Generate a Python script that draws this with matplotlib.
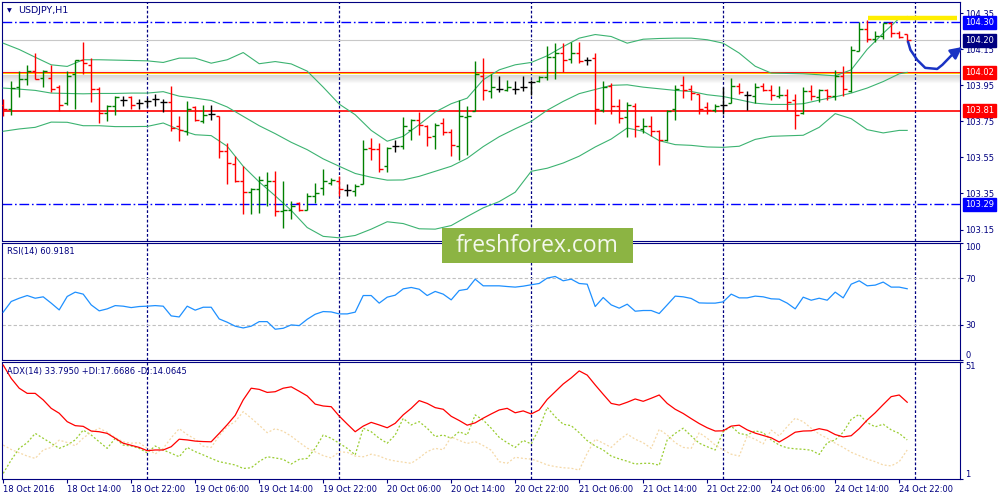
import matplotlib
matplotlib.use('Agg')
import matplotlib.pyplot as plt
import matplotlib.transforms as mtransforms
from matplotlib.patches import Rectangle

# USDJPY H1, 114 hourly bars: 18 Oct 06:00 .. 24 Oct 23:00 (weekend skipped)
bar_open = [103.840, 103.817, 103.940, 103.983, 104.027, 103.990, 103.990, 103.940, 103.852, 104.014,
            104.092, 104.064, 103.928, 103.798, 103.837, 103.867, 103.887, 103.852, 103.861, 103.872,
            103.856, 103.856, 103.723, 103.695, 103.830, 103.750, 103.793, 103.778, 103.584, 103.516,
            103.418, 103.357, 103.376, 103.395, 103.418, 103.252, 103.261, 103.298, 103.261, 103.335,
            103.381, 103.409, 103.418, 103.372, 103.363, 103.400, 103.603, 103.597, 103.501, 103.612,
            103.616, 103.704, 103.760, 103.723, 103.667, 103.741, 103.689, 103.612, 103.774, 103.805,
            104.003, 103.917, 103.928, 103.922, 103.928, 103.940, 103.966, 103.972, 103.996, 104.106,
            104.132, 104.095, 104.132, 104.088, 104.101, 103.811, 103.944, 103.837, 103.774, 103.837,
            103.710, 103.726, 103.695, 103.649, 103.817, 103.953, 103.928, 103.903, 103.830, 103.815,
            103.843, 103.852, 103.946, 103.898, 103.889, 103.946, 103.925, 103.889, 103.898, 103.870,
            103.796, 103.917, 103.885, 103.922, 103.889, 104.003, 103.917, 104.143, 104.262, 104.206,
            104.225, 104.298, 104.240, 104.236]
bar_high = [103.872, 103.972, 104.027, 104.064, 104.129, 104.036, 104.064, 103.953, 104.027, 104.092,
            104.193, 104.101, 103.940, 103.843, 103.892, 103.892, 103.892, 103.872, 103.880, 103.902,
            103.874, 103.944, 103.778, 103.861, 103.833, 103.843, 103.843, 103.781, 103.630, 103.560,
            103.501, 103.381, 103.446, 103.468, 103.473, 103.418, 103.307, 103.302, 103.354, 103.409,
            103.486, 103.437, 103.446, 103.402, 103.400, 103.649, 103.658, 103.630, 103.608, 103.645,
            103.774, 103.763, 103.802, 103.732, 103.741, 103.769, 103.708, 103.870, 103.833, 104.083,
            104.101, 104.014, 104.000, 103.977, 103.972, 104.003, 103.981, 104.003, 104.166, 104.184,
            104.184, 104.193, 104.193, 104.110, 104.132, 103.972, 103.963, 103.874, 103.856, 103.852,
            103.769, 103.781, 103.700, 103.815, 103.953, 104.003, 103.953, 103.903, 103.856, 103.848,
            103.940, 103.990, 103.965, 103.917, 103.963, 103.965, 103.953, 103.944, 103.928, 103.903,
            103.940, 103.953, 103.928, 103.928, 104.033, 104.055, 104.166, 104.304, 104.313, 104.249,
            104.298, 104.304, 104.249, 104.236]
bar_low = [103.778, 103.787, 103.887, 103.953, 103.983, 103.940, 103.911, 103.809, 103.843, 103.817,
           104.014, 103.856, 103.741, 103.750, 103.787, 103.837, 103.817, 103.817, 103.830, 103.837,
           103.800, 103.698, 103.640, 103.676, 103.750, 103.741, 103.760, 103.547, 103.400, 103.413,
           103.234, 103.234, 103.243, 103.280, 103.224, 103.160, 103.206, 103.252, 103.261, 103.298,
           103.344, 103.397, 103.335, 103.335, 103.335, 103.400, 103.534, 103.468, 103.468, 103.579,
           103.597, 103.649, 103.676, 103.616, 103.597, 103.676, 103.557, 103.534, 103.566, 103.805,
           103.867, 103.879, 103.911, 103.917, 103.902, 103.917, 103.898, 103.966, 103.977, 103.987,
           104.022, 104.073, 104.076, 104.064, 103.737, 103.800, 103.793, 103.741, 103.665, 103.665,
           103.686, 103.667, 103.507, 103.640, 103.760, 103.879, 103.870, 103.793, 103.793, 103.800,
           103.793, 103.852, 103.903, 103.815, 103.852, 103.917, 103.870, 103.879, 103.815, 103.708,
           103.793, 103.870, 103.856, 103.870, 103.867, 103.892, 103.911, 104.140, 104.191, 104.191,
           104.205, 104.219, 104.212, 104.191]
bar_close = [103.817, 103.935, 103.983, 104.027, 103.985, 104.027, 103.928, 103.843, 104.003, 104.092,
             104.076, 103.928, 103.798, 103.837, 103.887, 103.867, 103.843, 103.852, 103.861, 103.872,
             103.856, 103.713, 103.700, 103.817, 103.760, 103.787, 103.793, 103.584, 103.520, 103.418,
             103.357, 103.376, 103.427, 103.420, 103.252, 103.261, 103.283, 103.261, 103.335, 103.354,
             103.418, 103.424, 103.376, 103.372, 103.390, 103.597, 103.597, 103.486, 103.603, 103.612,
             103.723, 103.756, 103.732, 103.663, 103.732, 103.689, 103.617, 103.781, 103.781, 104.014,
             103.922, 103.940, 103.928, 103.940, 103.928, 103.940, 103.966, 103.996, 104.106, 104.132,
             104.092, 104.132, 104.083, 104.088, 103.817, 103.940, 103.837, 103.769, 103.843, 103.723,
             103.725, 103.695, 103.649, 103.805, 103.928, 103.925, 103.907, 103.817, 103.815, 103.837,
             103.843, 103.946, 103.911, 103.898, 103.940, 103.922, 103.898, 103.898, 103.856, 103.787,
             103.917, 103.892, 103.922, 103.889, 104.003, 103.928, 104.147, 104.262, 104.205, 104.225,
             104.295, 104.243, 104.220, 104.200]

# Bollinger bands every second bar
bb_idx = list(range(0, 113, 2)) + [113]
bb_upper = [104.184, 104.149, 104.106, 104.064, 104.055, 104.092, 104.092, 104.090, 104.088, 104.086,
            104.077, 104.101, 104.101, 104.073, 104.092, 104.132, 104.070, 104.082, 104.069, 104.029,
            103.940, 103.846, 103.787, 103.700, 103.640, 103.667, 103.732, 103.802, 103.848, 103.879,
            103.981, 104.036, 104.064, 104.077, 104.114, 104.165, 104.212, 104.232, 104.221, 104.184,
            104.206, 104.210, 104.212, 104.212, 104.203, 104.184, 104.129, 104.056, 104.018, 104.016,
            104.014, 104.009, 104.003, 104.036, 104.150, 104.239, 104.322, 104.332]
bb_mid = [103.935, 103.929, 103.922, 103.907, 103.905, 103.903, 103.905, 103.905, 103.907, 103.907,
          103.915, 103.890, 103.879, 103.866, 103.830, 103.778, 103.726, 103.682, 103.634, 103.593,
          103.542, 103.501, 103.461, 103.440, 103.424, 103.425, 103.445, 103.473, 103.501, 103.545,
          103.610, 103.665, 103.709, 103.750, 103.812, 103.861, 103.904, 103.927, 103.950, 103.953,
          103.940, 103.931, 103.922, 103.916, 103.898, 103.888, 103.870, 103.851, 103.844, 103.844,
          103.848, 103.868, 103.886, 103.907, 103.935, 103.971, 104.014, 104.022]
bb_lower = [103.695, 103.708, 103.717, 103.746, 103.745, 103.726, 103.726, 103.721, 103.721, 103.722,
            103.741, 103.704, 103.676, 103.671, 103.612, 103.501, 103.414, 103.337, 103.256, 103.161,
            103.112, 103.104, 103.117, 103.152, 103.193, 103.183, 103.154, 103.152, 103.172, 103.222,
            103.270, 103.305, 103.357, 103.473, 103.490, 103.519, 103.557, 103.608, 103.652, 103.713,
            103.695, 103.643, 103.621, 103.617, 103.608, 103.606, 103.612, 103.650, 103.667, 103.670,
            103.673, 103.717, 103.793, 103.765, 103.704, 103.686, 103.700, 103.700]

rsi = [40.9, 50.0, 52.8, 55.1, 52.8, 54.0, 48.6, 42.8, 54.3, 58.0, 56.3, 47.1, 42.0, 43.7, 46.5,
       46.0, 44.8, 45.7, 46.0, 46.5, 46.0, 37.7, 36.8, 46.0, 42.6, 45.1, 45.1, 35.1, 32.3, 28.9,
       27.4, 28.9, 32.8, 32.8, 26.3, 27.1, 30.0, 29.4, 34.8, 39.1, 41.4, 41.1, 39.4, 39.4, 40.9,
       55.1, 55.1, 48.6, 53.7, 55.4, 60.8, 62.0, 60.5, 55.1, 58.6, 56.3, 51.4, 59.4, 60.5, 69.1,
       63.4, 63.4, 63.4, 62.8, 62.3, 63.1, 64.3, 65.4, 70.0, 71.4, 67.7, 69.1, 65.4, 64.8, 45.7,
       53.4, 47.1, 44.3, 47.7, 41.7, 42.3, 42.3, 39.7, 47.1, 54.6, 54.0, 52.6, 48.8, 48.6, 48.6,
       49.7, 56.3, 53.1, 53.1, 54.6, 54.0, 52.3, 52.0, 48.6, 43.7, 53.7, 51.1, 52.8, 51.1, 58.0,
       53.1, 64.8, 67.7, 63.4, 64.0, 66.6, 62.3, 62.3, 60.9]

adx = [49.7, 44.0, 39.8, 37.6, 37.6, 34.8, 31.2, 29.1, 25.5, 23.8, 23.5, 21.5, 21.2, 20.5, 18.4,
       16.3, 15.4, 14.5, 13.1, 13.4, 13.4, 14.8, 18.0, 17.7, 17.2, 17.0, 16.9, 20.5, 24.2, 28.2,
       34.8, 39.8, 39.3, 38.0, 38.3, 39.8, 40.4, 38.5, 36.5, 33.0, 32.2, 31.9, 27.9, 24.5, 21.2,
       23.6, 25.2, 24.1, 22.9, 24.8, 28.4, 31.2, 34.5, 33.3, 31.5, 30.8, 27.8, 26.0, 24.0, 25.0,
       27.0, 28.8, 30.5, 31.2, 29.3, 30.1, 28.8, 30.5, 35.0, 38.3, 41.6, 44.2, 47.2, 45.4, 41.2,
       37.2, 33.3, 32.6, 33.8, 35.2, 34.2, 35.5, 36.9, 33.3, 30.8, 29.0, 26.8, 24.7, 22.9, 21.5,
       21.6, 23.6, 24.0, 22.0, 20.6, 19.6, 18.6, 16.8, 18.8, 21.0, 21.5, 21.6, 22.5, 21.8, 20.0,
       19.0, 19.5, 22.5, 26.2, 29.3, 32.8, 36.2, 36.9, 33.8]
plus_di = [3.4, 9.1, 14.1, 16.5, 20.5, 18.4, 16.3, 14.1, 15.5, 17.7, 21.9, 19.8, 16.9, 14.1, 18.4,
           15.5, 15.1, 14.1, 12.2, 15.1, 13.4, 12.0, 10.5, 14.5, 12.7, 11.3, 9.8, 8.4, 7.7, 7.0,
           5.5, 5.8, 8.5, 10.5, 10.0, 9.4, 7.4, 9.4, 9.8, 14.1, 19.8, 18.4, 16.3, 14.1, 11.3,
           22.7, 21.2, 18.4, 16.3, 19.8, 26.9, 24.1, 25.5, 22.7, 19.1, 19.8, 18.4, 21.2, 19.8, 28.4,
           26.2, 22.7, 18.8, 16.5, 14.5, 17.5, 16.0, 22.7, 31.6, 27.6, 24.4, 23.8, 20.8, 17.4, 15.1,
           13.4, 10.8, 9.6, 8.6, 7.4, 7.7, 7.7, 6.9, 17.7, 20.5, 22.7, 19.4, 16.3, 14.8, 13.4,
           21.2, 23.6, 20.5, 19.8, 21.6, 20.8, 17.7, 15.5, 14.3, 13.9, 13.7, 13.3, 11.5, 16.5, 17.7,
           21.0, 26.5, 28.6, 25.1, 23.3, 24.4, 22.0, 20.5, 17.7]
minus_di = [15.5, 13.6, 12.2, 10.8, 9.8, 13.4, 14.5, 17.6, 16.6, 15.2, 18.5, 21.0, 22.7, 21.0, 18.7,
            16.9, 16.3, 16.5, 14.1, 11.7, 14.1, 18.6, 22.5, 20.0, 18.0, 15.0, 14.5, 19.5, 23.4, 25.5,
            29.8, 27.0, 24.0, 20.8, 22.5, 21.4, 19.3, 16.7, 14.2, 12.6, 11.0, 10.0, 12.6, 12.4, 10.8,
            10.5, 11.6, 10.8, 9.4, 8.7, 8.2, 7.7, 10.0, 12.7, 14.1, 13.5, 19.0, 17.5, 16.2, 17.0,
            15.3, 13.3, 8.4, 7.7, 10.3, 9.8, 9.5, 8.4, 7.0, 6.3, 5.8, 5.6, 4.8, 12.0, 18.0,
            16.3, 14.5, 17.7, 20.2, 18.0, 16.5, 14.1, 22.2, 19.8, 16.5, 14.5, 14.1, 20.8, 18.4, 15.5,
            13.4, 11.6, 10.8, 19.4, 18.0, 16.0, 21.9, 19.4, 23.4, 27.0, 25.5, 22.7, 20.2, 18.4, 16.3,
            14.5, 12.4, 11.0, 9.5, 8.4, 7.0, 6.6, 8.4, 13.4]

# horizontal levels drawn on the chart
blue_levels = [104.30, 103.29]
red_levels = [104.02, 103.81]
bid_price = 104.20
yellow_level = 104.322
yellow_span = [108.1, 119.25]
# hand drawn forecast arrow (bar index, price)
arrow_x = [113.1, 113.4, 114.25, 115.25, 116.75, 117.4, 118.6, 119.9]
arrow_y = [104.193, 104.147, 104.091, 104.047, 104.041, 104.064, 104.119, 104.163]

price_ticks = [103.15, 103.35, 103.55, 103.75, 103.95, 104.15, 104.35]
day_sep = [18, 42, 66, 90, 114]
time_idx = [0, 8, 16, 24, 32, 40, 48, 56, 64, 72, 80, 88, 96, 104, 112]
time_lbl = ['18 Oct 2016', '18 Oct 14:00', '18 Oct 22:00', '19 Oct 06:00', '19 Oct 14:00',
            '19 Oct 22:00', '20 Oct 06:00', '20 Oct 14:00', '20 Oct 22:00', '21 Oct 06:00',
            '21 Oct 14:00', '21 Oct 22:00', '24 Oct 06:00', '24 Oct 14:00', '24 Oct 22:00']

navy = '#000080'
n = len(bar_close)
xs = list(range(n))

fig = plt.figure(figsize=(10, 5), dpi=100)
fig.patch.set_facecolor('white')
ax = fig.add_axes([0.002, 0.519, 0.958, 0.477])
ax_rsi = fig.add_axes([0.002, 0.280, 0.958, 0.234])
ax_adx = fig.add_axes([0.002, 0.042, 0.958, 0.234])

for a in (ax, ax_rsi, ax_adx):
    a.set_xlim(-0.15, 119.6)
    for sp in a.spines.values():
        sp.set_color(navy)
        sp.set_linewidth(0.8)
    a.yaxis.tick_right()
    a.tick_params(axis='y', direction='out', length=2.5, width=0.8, color=navy,
                  labelcolor=navy, labelsize=6, pad=1.5)
    for s in day_sep:
        a.axvline(s, color=navy, lw=0.9, ls=(0, (2.2, 1.6)), zorder=1)

ax.tick_params(axis='x', bottom=False, labelbottom=False)
ax_rsi.tick_params(axis='x', bottom=False, labelbottom=False)

# ---- price panel
ax.set_ylim(103.089, 104.4125)
ax.set_yticks(price_ticks)
ax.set_yticklabels(['%.2f' % p for p in price_ticks])

ax.axhline(bid_price, color='#c8c8c8', lw=0.8, zorder=1)
for lv in blue_levels:
    ax.axhline(lv, color='#0000ff', lw=1.0, ls=(0, (7, 2, 1.2, 2)), zorder=2)
# soft shadow under the 104.02 level
px = 1 / 180.6
for k in range(8):
    ax.axhline(red_levels[0] - px * (k + 2), color='#8a8a8a', lw=0.8,
               alpha=0.32 * (1 - k / 8.0), zorder=1.5)
for k in range(3):
    ax.axhline(red_levels[0] + px * (k + 1), color='#8a8a8a', lw=0.8,
               alpha=0.12 * (1 - k / 3.0), zorder=1.5)
ax.axhline(red_levels[0], color='#ff0000', lw=1.3, zorder=2)
ax.axhline(red_levels[0] - 0.6 * px, color='#ffff00', lw=0.55, zorder=2.1)
ax.axhline(red_levels[1], color='#ff0000', lw=1.2, zorder=2)

ax.plot(bb_idx, bb_upper, color='#3cb371', lw=0.8, zorder=3)
ax.plot(bb_idx, bb_mid, color='#3cb371', lw=0.8, zorder=3)
ax.plot(bb_idx, bb_lower, color='#3cb371', lw=0.8, zorder=3)

cols = []
for o, c in zip(bar_open, bar_close):
    if c > o:
        cols.append('#008000')
    elif c < o:
        cols.append('#ff0000')
    else:
        cols.append('#000000')
ax.vlines(xs, bar_low, bar_high, colors=cols, lw=1.0, zorder=4)
ax.hlines(bar_open, [x - 0.42 for x in xs], xs, colors=cols, lw=1.0, zorder=4)
ax.hlines(bar_close, xs, [x + 0.42 for x in xs], colors=cols, lw=1.0, zorder=4)

ax.plot(yellow_span, [yellow_level, yellow_level], color='#ffee00', lw=3.2,
        solid_capstyle='butt', zorder=5)

ax.plot(arrow_x[:-1], arrow_y[:-1], color='#1a33c4', lw=1.8, clip_on=False, zorder=6,
        solid_capstyle='round')
ax.annotate('', xy=(arrow_x[-1], arrow_y[-1]), xytext=(arrow_x[-2], arrow_y[-2]),
            arrowprops=dict(arrowstyle='-|>,head_length=0.7,head_width=0.35',
                            color='#1a33c4', lw=1.8, shrinkA=0, shrinkB=0),
            annotation_clip=False, zorder=6)

trans = mtransforms.blended_transform_factory(ax.transAxes, ax.transData)
tags = [(blue_levels[0], '#0000ff'), (bid_price, '#000080'), (red_levels[0], '#ff0000'),
        (red_levels[1], '#ff0000'), (blue_levels[1], '#0000ff')]
for val, col in tags:
    ax.text(1.0055, val, '%.2f' % val, transform=trans, ha='left', va='center',
            fontsize=6, color='white', zorder=10,
            bbox=dict(boxstyle='square,pad=0.22', facecolor=col, edgecolor=col))

# ---- RSI panel
ax_rsi.set_ylim(0, 100)
ax_rsi.axhline(70, color='#c0c0c0', lw=0.8, ls=(0, (3, 2)), zorder=1)
ax_rsi.axhline(30, color='#c0c0c0', lw=0.8, ls=(0, (3, 2)), zorder=1)
ax_rsi.plot(xs, rsi, color='#1e90ff', lw=0.9, zorder=3)
ax_rsi.set_yticks([0, 30, 70, 100])
ax_rsi.set_yticklabels(['0', '30', '70', '100'])
lbls = ax_rsi.get_yticklabels()
lbls[0].set_va('bottom')
lbls[-1].set_va('top')

# ---- ADX panel
ax_adx.set_ylim(1, 51)
ax_adx.plot(xs, plus_di, color='#9acd32', lw=0.9, ls=(0, (1.6, 1.6)), zorder=2)
ax_adx.plot(xs, minus_di, color='#f5d9a8', lw=0.9, ls=(0, (1.6, 1.6)), zorder=2)
ax_adx.plot(xs, adx, color='#ff0000', lw=0.9, zorder=3)
ax_adx.set_yticks([1, 51])
ax_adx.set_yticklabels(['1', '51'])
lbls = ax_adx.get_yticklabels()
lbls[0].set_va('bottom')
lbls[-1].set_va('top')
ax_adx.set_xticks(time_idx)
ax_adx.set_xticklabels(time_lbl, ha='left')
ax_adx.tick_params(axis='x', direction='out', length=3, width=0.8, color=navy,
                   labelcolor=navy, labelsize=6, pad=1.5)

# ---- captions
fig.text(0.0065, 1 - 10.7 / 500, '\u25bc', fontsize=4.5, color=navy, va='center')
fig.text(0.018, 1 - 10.7 / 500, 'USDJPY,H1', fontsize=6.8, color=navy, va='center')
fig.text(0.007, 1 - 251.7 / 500, 'RSI(14) 60.9181', fontsize=6, color=navy, va='center')
fig.text(0.007, 1 - 371.7 / 500, 'ADX(14) 33.7950 +DI:17.6686 -DI:14.0645', fontsize=6,
         color=navy, va='center')

# ---- watermark
fig.patches.append(Rectangle((0.442, 1 - 263 / 500), 0.191, 35 / 500, transform=fig.transFigure,
                             facecolor='#8cb443', edgecolor='none', zorder=10))
fig.text(0.5375, 1 - 246 / 500, 'freshforex.com', fontsize=16.5, family=['Open Sans', 'DejaVu Sans'],
         color='#f4f8ec', ha='center', va='center', zorder=11)

fig.savefig('out.png', dpi=100)
